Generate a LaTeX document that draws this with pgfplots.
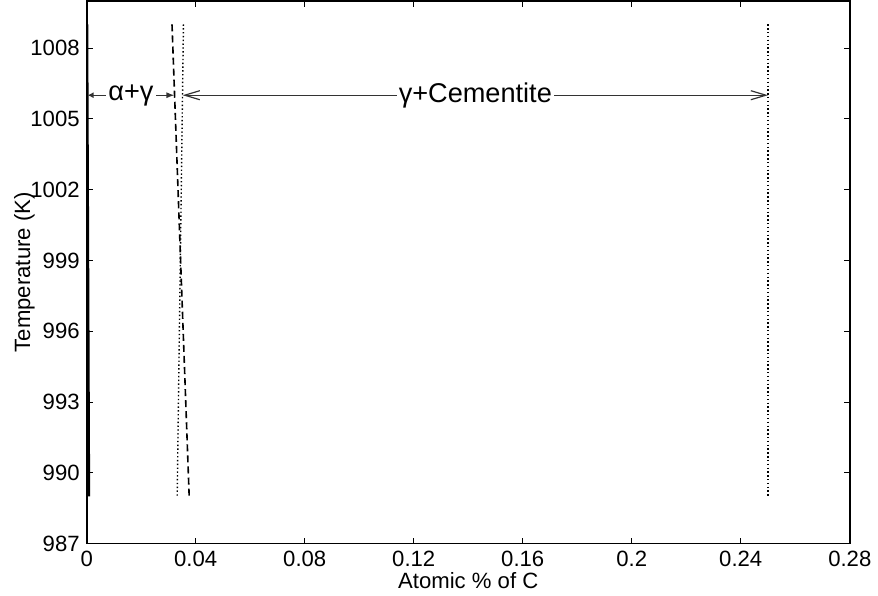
\documentclass[border=0pt]{standalone}
\usepackage{fontspec}
\setmainfont{Liberation Sans}
\usepackage{pgfplots}
\pgfplotsset{compat=1.18}
\usetikzlibrary{arrows.meta}
\begin{document}
\begin{tikzpicture}
  \begin{axis}[
      scale only axis,
      width=379.5pt,
      height=270pt,
      xmin=0, xmax=0.28,
      ymin=987, ymax=1010,
      xtick={0,0.04,0.08,0.12,0.16,0.2,0.24,0.28},
      xticklabels={0,0.04,0.08,0.12,0.16,0.2,0.24,0.28},
      ytick={987,990,993,996,999,1002,1005,1008},
      scaled x ticks=false,
      /pgf/number format/set thousands separator={},
      tick align=inside,
      major tick length=3pt,
      tick style={black, line width=0.5pt},
      axis line style={line width=0.8pt},
      ticklabel style={font=\fontsize{11}{13}\selectfont},
      /pgf/number format/assume math mode=true,
      xlabel={Atomic \% of C},
      ylabel={Temperature (K)},
      label style={font=\fontsize{11}{13}\selectfont},
      xlabel style={yshift=4pt},
      ylabel style={at={(axis description cs:0,0.5)}, anchor=center, yshift=31pt, inner ysep=7pt},
      clip=false,
    ]
    % phase boundaries
    \addplot[black, line width=1pt] coordinates {(0.0002,1009)(0.0009,989)};
    \addplot[black, line width=0.8pt, dash pattern=on 3.5pt off 2pt] coordinates {(0.0313,1009)(0.0376,989)};
    \addplot[black, line width=0.7pt, dash pattern=on 0.7pt off 1.2pt] coordinates {(0.0355,1009)(0.0332,989)};
    \addplot[black, line width=0.7pt, dash pattern=on 0.7pt off 1.2pt] coordinates {(0.25,1009)(0.25,989)};
    % region labels
    \addplot[black!80, line width=0.6pt, {Latex[length=3pt,width=3pt]}-{Latex[length=4pt,width=3pt]}]
      coordinates {(0.0003,1006)(0.0322,1006)}
      node[pos=0.5, fill=white, text=black, inner sep=1pt, font=\fontsize{13.5}{15}\selectfont] {α+γ};
    \addplot[black!80, line width=0.6pt, {Straight Barb[length=7.5pt,width=4.5pt]}-{Straight Barb[length=7.5pt,width=4.5pt]}]
      coordinates {(0.0352,1006)(0.25,1006)}
      node[pos=0.5, fill=white, text=black, inner sep=1pt, font=\fontsize{13.5}{15}\selectfont] {γ+Cementite};
  \end{axis}
\end{tikzpicture}
\end{document}
